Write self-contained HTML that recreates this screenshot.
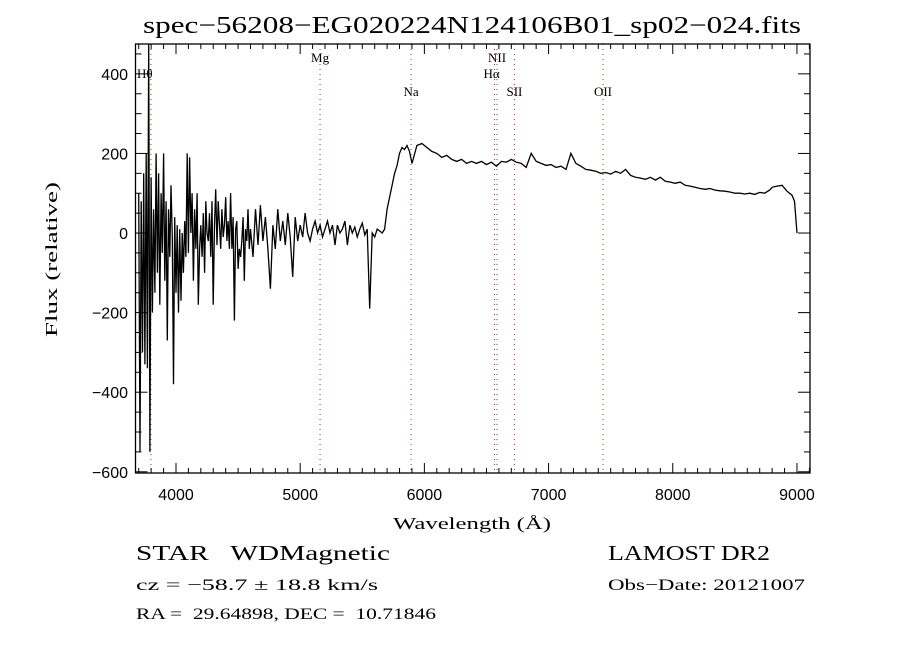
<!DOCTYPE html>
<html><head><meta charset="utf-8"><style>
html,body{margin:0;padding:0;background:#fff;}
svg{display:block;}
text{fill:#000;}
</style></head><body>
<svg id="chart" width="900" height="650" xmlns="http://www.w3.org/2000/svg">
<rect width="900" height="650" fill="#fff"/>
<text x="143" y="33" textLength="658" lengthAdjust="spacingAndGlyphs" font-family="Liberation Serif, serif" font-size="24">spec−56208−EG020224N124106B01_sp02−024.fits</text>
<g id="lines"></g>
<g id="ticks"></g>
<path id="spec" fill="none" stroke="#000" stroke-width="1.3"/>
<rect x="135.5" y="44" width="674.5" height="429" fill="none" stroke="#000" stroke-width="1.3"/>
<text x="393" y="529" textLength="158" lengthAdjust="spacingAndGlyphs" font-family="Liberation Serif, serif" font-size="17">Wavelength (Å)</text>
<text x="0" y="0" transform="translate(57,337) rotate(-90)" textLength="155" lengthAdjust="spacingAndGlyphs" font-family="Liberation Serif, serif" font-size="17">Flux (relative)</text>
<text x="136" y="560" textLength="254" lengthAdjust="spacingAndGlyphs" font-family="Liberation Serif, serif" font-size="21" xml:space="preserve">STAR   WDMagnetic</text>
<text x="608" y="560" textLength="162" lengthAdjust="spacingAndGlyphs" font-family="Liberation Serif, serif" font-size="21">LAMOST DR2</text>
<text x="136" y="590" textLength="242" lengthAdjust="spacingAndGlyphs" font-family="Liberation Serif, serif" font-size="16">cz = −58.7 ± 18.8 km/s</text>
<text x="608" y="590" textLength="197" lengthAdjust="spacingAndGlyphs" font-family="Liberation Serif, serif" font-size="16">Obs−Date: 20121007</text>
<text x="136" y="619" textLength="300" lengthAdjust="spacingAndGlyphs" font-family="Liberation Serif, serif" font-size="16" xml:space="preserve">RA =  29.64898, DEC =  10.71846</text>
</svg>
<script>
const waves = [3700,3710,3720,3730,3740,3750,3760,3770,3780,3790,3800,3810,3820,3830,3840,3850,3860,3870,3880,3890,3900,3910,3920,3930,3940,3950,3960,3970,3980,3990,4000,4010,4020,4030,4040,4050,4060,4070,4080,4090,4100,4110,4120,4130,4140,4150,4160,4170,4180,4190,4200,4210,4220,4230,4240,4250,4260,4270,4280,4290,4300,4310,4320,4330,4340,4350,4360,4370,4380,4390,4400,4410,4420,4430,4440,4450,4460,4470,4480,4490,4500,4510,4520,4530,4540,4550,4560,4570,4580,4590,4600,
4620,4640,4660,4680,4700,4720,4740,4760,4780,4800,4820,4840,4860,4880,4900,4920,4940,4960,4980,5000,5020,5040,5060,5080,5100,5120,5140,5160,5180,5200,5220,5240,5260,5280,5300,5320,5340,5360,5380,5400,5420,5440,5460,5480,5500,5520,5540,5560,5580,5600,5620,5640,5660,5680,5700,5720,5740,5760,5780,5800,5820,5840,5860,5880,5900,
5940,5980,6020,6060,6100,6140,6180,6220,6260,6300,6340,6380,6420,6460,6500,6540,6580,6620,6660,6700,6740,6780,6820,6860,6900,6940,6980,7020,7060,7100,7140,7180,7220,7260,7300,7340,7380,7420,7460,7500,7540,7580,7620,7660,7700,7740,7780,7820,7860,7900,7940,7980,8020,8060,8100,8140,8180,8220,8260,8300,8340,8380,8420,8460,8500,8540,8580,8620,8660,8700,8740,8780,8800,8840,8880,8920,8960,8980,9000];
const flux = [100,-550,80,-300,150,-330,200,-340,480,-550,140,-200,60,-150,200,-100,150,-180,100,-50,200,-120,80,-270,60,-60,120,-10,-380,40,-150,20,-200,10,-170,0,-100,30,-60,200,-50,190,0,100,-120,60,-40,100,-180,-40,20,-60,50,-100,80,0,-20,50,-60,80,-180,20,110,-30,80,20,-40,60,-10,20,90,-20,30,-40,100,-40,40,-220,10,30,-90,-40,-60,-20,40,-120,10,-20,60,-40,10,
-60,60,-30,70,-20,40,-40,-140,20,-40,60,-20,30,-30,50,-10,-110,40,-20,20,-10,50,0,-20,10,30,0,20,-10,10,30,0,20,-30,20,0,10,30,-30,20,0,15,-10,10,25,-5,10,-190,0,-10,10,5,0,10,60,90,120,150,170,200,215,210,220,205,175,
220,225,215,205,200,190,195,185,180,185,175,180,175,180,172,178,168,180,178,185,178,175,165,200,180,175,170,172,165,168,160,200,175,168,160,158,155,150,152,148,155,150,160,145,140,138,135,140,133,140,130,128,125,128,120,118,115,112,110,112,108,106,105,103,100,100,98,100,97,102,100,108,115,118,120,105,95,80,0];
const xTickLabels = [4000,5000,6000,7000,8000,9000];
const yTickLabels = [-600,-400,-200,0,200,400];
const lineNames = ["Hθ","Mg","Na","NII","Hα","SII","OII"];
const lineWaves = [3798,5160,5893,6585,6565,6725,7438];

const X0=135.5,X1=810,Y0=44,Y1=473,WMIN=3674,WMAX=9105,FMIN=-603,FMAX=475;
function xs(w){return X0+(w-WMIN)/(WMAX-WMIN)*(X1-X0);}
function ys(f){return Y1-(f-FMIN)/(FMAX-FMIN)*(Y1-Y0);}
const NS="http://www.w3.org/2000/svg";
function mk(tag,attrs,parent){const e=document.createElementNS(NS,tag);for(const k in attrs)e.setAttribute(k,attrs[k]);parent.appendChild(e);return e;}

let d="";
for(let i=0;i<waves.length;i++){
  const f=Math.max(FMIN,Math.min(FMAX,flux[i]));
  d+=(i?"L":"M")+xs(waves[i]).toFixed(1)+","+ys(f).toFixed(1);
}
document.getElementById("spec").setAttribute("d",d);

const lg=document.getElementById("lines");
const labelPos=[[137,78],[0,62],[0,96],[0,62],[0,78],[0,96],[0,96]];
for(let i=0;i<lineWaves.length;i++){
  const x=xs(lineWaves[i]);
  const ln=mk("line",{x1:x,x2:x,y1:Y0,y2:Y1,stroke:"#8b3a2a","stroke-width":1,"stroke-dasharray":"1,4"},lg);
  
  
  const lx=i===0?labelPos[0][0]:x-(i===4?3:0);
  const t=mk("text",{x:lx,y:labelPos[i][1],"text-anchor":i===0?"start":"middle","font-family":"Liberation Serif, serif","font-size":13},lg);
  
  
  t.textContent=lineNames[i];
}

const tg=document.getElementById("ticks");
for(let w=3700;w<=9100;w+=100){
  const x=xs(w),major=(w%1000===0),L=major?10:5;
  mk("line",{x1:x,x2:x,y1:Y1,y2:Y1-L,stroke:"#000","stroke-width":1},tg);
  mk("line",{x1:x,x2:x,y1:Y0,y2:Y0+L,stroke:"#000","stroke-width":1},tg);
}
for(let f=-600;f<=450;f+=50){
  const y=ys(f),major=(f%200===0),L=major?12:6;
  mk("line",{x1:X0,x2:X0+L,y1:y,y2:y,stroke:"#000","stroke-width":1},tg);
  mk("line",{x1:X1,x2:X1-L,y1:y,y2:y,stroke:"#000","stroke-width":1},tg);
}
for(const v of xTickLabels){
  const t=mk("text",{x:xs(v),y:500,"text-anchor":"middle","font-family":"Liberation Sans, sans-serif","font-size":16},tg);
  
  
  t.textContent=v;
}
for(const v of yTickLabels){
  const t=mk("text",{x:128,y:ys(v)+6,"text-anchor":"end","font-family":"Liberation Sans, sans-serif","font-size":16},tg);
  
  
  t.textContent=v<0?"−"+(-v):v;
}
</script>
</body></html>
